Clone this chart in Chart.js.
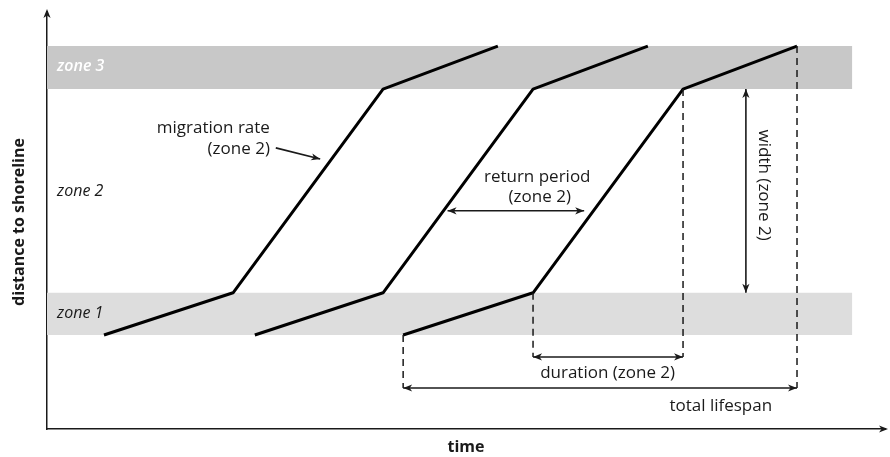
<!DOCTYPE html>
<html>
<head>
<meta charset="utf-8">
<script src="https://cdn.jsdelivr.net/npm/chart.js@4/dist/chart.umd.min.js"></script>
<style>
  html, body { margin: 0; padding: 0; background: #fff; }
  canvas { display: block; }
</style>
</head>
<body>
<canvas id="ridges" width="890" height="457"></canvas>
<script>
// schematic units: time 0..100, distance 0..100
var zone1 = [22.7, 32.9];      // distance band of zone 1 (bottom, top)
var zone3 = [82.1, 92.5];      // distance band of zone 3 (bottom, top)
var bandEnd = 96.1;            // time where the shaded bands stop
var levels = [zone1[0], zone1[1], zone3[0], zone3[1]];
var ridge1 = [6.8, 22.2, 40.1, 53.8];   // time at each level
var ridge2 = [24.8, 40.1, 58.0, 71.7];
var ridge3 = [42.5, 58.0, 75.9, 89.5];

(function () {
  var el = document.getElementById('ridges');
  if (!el || typeof Chart === 'undefined') return;

  var FONT = '"Open Sans", "DejaVu Sans", sans-serif';
  var INK = '#1a1a1a';

  function pts(xs) {
    return xs.map(function (x, i) { return { x: x, y: levels[i] }; });
  }
  function band(y) {
    return [{ x: 0, y: y }, { x: bandEnd, y: y }];
  }
  function ridge(xs) {
    return {
      data: pts(xs),
      borderColor: '#000',
      borderWidth: 3,
      borderJoinStyle: 'round',
      borderCapStyle: 'butt',
      pointRadius: 0,
      fill: false,
      tension: 0
    };
  }
  function bandSet(y, color, fill) {
    return {
      data: band(y),
      borderWidth: 0,
      borderColor: 'rgba(0,0,0,0)',
      backgroundColor: color,
      pointRadius: 0,
      fill: fill
    };
  }

  function head(ctx, x, y, ang) {
    ctx.save();
    ctx.translate(x, y);
    ctx.rotate(ang);
    ctx.beginPath();
    ctx.moveTo(0, 0);
    ctx.lineTo(-9, -3.6);
    ctx.lineTo(-6.5, 0);
    ctx.lineTo(-9, 3.6);
    ctx.closePath();
    ctx.fill();
    ctx.restore();
  }
  function arrow(ctx, x1, y1, x2, y2, both) {
    ctx.beginPath();
    ctx.moveTo(x1, y1);
    ctx.lineTo(x2, y2);
    ctx.stroke();
    var a = Math.atan2(y2 - y1, x2 - x1);
    head(ctx, x2, y2, a);
    if (both) head(ctx, x1, y1, a + Math.PI);
  }

  var schematic = {
    id: 'schematic',
    afterDraw: function (chart) {
      var ctx = chart.ctx;
      var xs = chart.scales.x, ys = chart.scales.y;
      var area = chart.chartArea;
      var px = function (v) { return xs.getPixelForValue(v); };
      var py = function (v) { return ys.getPixelForValue(v); };

      ctx.save();
      ctx.strokeStyle = INK;
      ctx.fillStyle = INK;

      // axis arrowheads
      ctx.lineWidth = 1.5;
      ctx.beginPath();
      ctx.moveTo(area.left, area.top);
      ctx.lineTo(area.left, area.top - 4);
      ctx.stroke();
      head(ctx, area.left, area.top - 6, -Math.PI / 2);
      ctx.beginPath();
      ctx.moveTo(area.right, area.bottom);
      ctx.lineTo(area.right + 1, area.bottom);
      ctx.stroke();
      head(ctx, area.right + 3, area.bottom, 0);

      // dashed guides from the third ridge
      ctx.lineWidth = 1.5;
      ctx.setLineDash([7, 5]);
      var durY = 17.4, lifeY = 9.9;
      [[ridge3[0], zone1[0], lifeY], [ridge3[1], zone1[1], durY],
       [ridge3[2], zone3[0], durY], [ridge3[3], zone3[1], lifeY]].forEach(function (g) {
        ctx.beginPath();
        ctx.moveTo(px(g[0]), py(g[1]));
        ctx.lineTo(px(g[0]), py(g[2]));
        ctx.stroke();
      });
      ctx.setLineDash([]);

      // dimension arrows
      ctx.lineWidth = 1.6;
      arrow(ctx, px(ridge3[1]), py(durY), px(ridge3[2]), py(durY), true);
      arrow(ctx, px(ridge3[0]), py(lifeY), px(ridge3[3]), py(lifeY), true);
      arrow(ctx, px(83.4), py(zone1[1]), px(83.4), py(zone3[0]), true);
      arrow(ctx, px(47.8), py(52.7), px(64.1), py(52.7), true);
      arrow(ctx, px(27.3), py(67.9), px(32.6), py(65.2), false);

      // labels
      ctx.textBaseline = 'middle';
      ctx.font = 'italic 16px ' + FONT;
      ctx.textAlign = 'left';
      ctx.fillText('zone 2', px(1.2), py(57.4));
      ctx.fillText('zone 1', px(1.2), py(27.8));
      ctx.fillStyle = '#fff';
      ctx.font = 'italic 600 16px ' + FONT;
      ctx.fillText('zone 3', px(1.2), py(87.6));
      ctx.fillStyle = INK;

      ctx.font = '17px ' + FONT;
      ctx.textAlign = 'right';
      ctx.fillText('migration rate', px(26.6), py(72.6));
      ctx.fillText('(zone 2)', px(26.6), py(67.6));
      ctx.textAlign = 'center';
      ctx.fillText('return period', px(58.5), py(60.8));
      ctx.fillText('(zone 2)', px(58.8), py(56.0));
      ctx.fillText('duration (zone 2)', px(66.9), py(13.6));
      ctx.fillText('total lifespan', px(80.4), py(5.6));

      ctx.save();
      ctx.translate(px(85.5), py(58.9));
      ctx.rotate(Math.PI / 2);
      ctx.fillText('width (zone 2)', 0, 0);
      ctx.restore();

      ctx.restore();
    }
  };

  var axisBase = {
    type: 'linear',
    min: 0,
    max: 100,
    ticks: { display: false },
    grid: { display: false, drawTicks: false },
    border: { display: true, color: INK, width: 1.5 }
  };

  new Chart(el.getContext('2d'), {
    type: 'line',
    data: {
      datasets: [
        ridge(ridge1),
        ridge(ridge2),
        ridge(ridge3),
        bandSet(zone3[1], '#c8c8c8', '+1'),
        bandSet(zone3[0], '#c8c8c8', false),
        bandSet(zone1[1], '#dddddd', '+1'),
        bandSet(zone1[0], '#dddddd', false)
      ]
    },
    options: {
      responsive: false,
      animation: false,
      devicePixelRatio: 1,
      layout: { padding: { top: 15, right: 5, left: 0, bottom: 0 } },
      plugins: {
        legend: { display: false },
        tooltip: { enabled: false }
      },
      scales: {
        x: Object.assign({}, axisBase, {
          title: {
            display: true, text: 'time', color: INK,
            font: { family: FONT, size: 16, weight: 'bold' },
            padding: { top: 0, bottom: 0 }
          },
          afterFit: function (s) { s.height = 28; }
        }),
        y: Object.assign({}, axisBase, {
          title: {
            display: true, text: 'distance to shoreline', color: INK,
            font: { family: FONT, size: 16, weight: 'bold' },
            padding: { top: 10, bottom: 0 }
          },
          afterFit: function (s) { s.width = 47; }
        })
      }
    },
    plugins: [schematic]
  });
})();
</script>
</body>
</html>
